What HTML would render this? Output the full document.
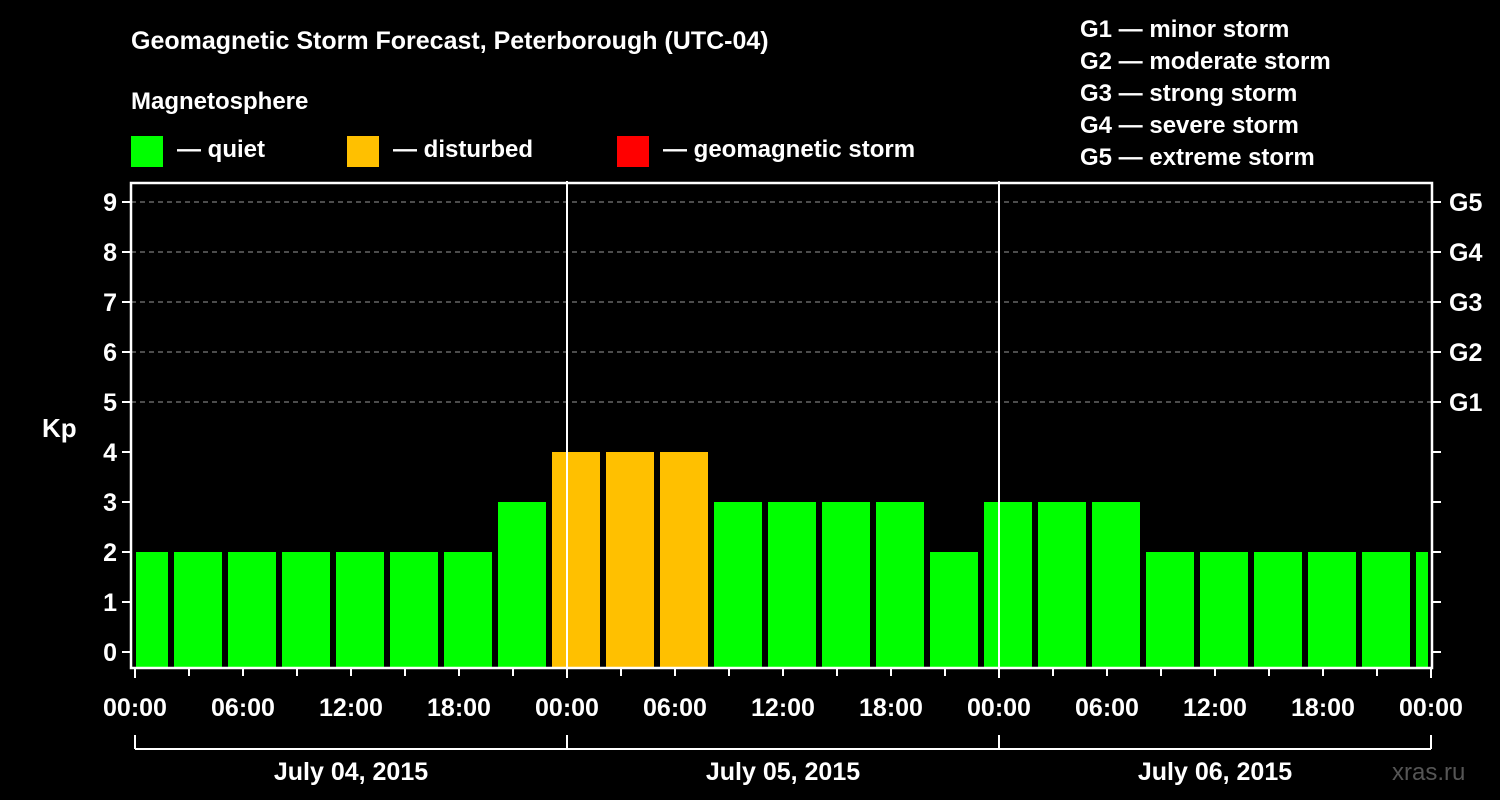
<!DOCTYPE html>
<html><head><meta charset="utf-8"><style>
html,body{margin:0;padding:0;background:#000;}
svg{display:block;font-family:"Liberation Sans",sans-serif;font-weight:bold;}
</style></head><body>
<svg id="c" width="1500" height="800">
<text x="131" y="49" fill="#fff" font-size="25">Geomagnetic Storm Forecast, Peterborough (UTC-04)</text>
<text x="131" y="109" fill="#fff" font-size="24">Magnetosphere</text>
<g><rect x="131" y="136" width="32" height="31" fill="#00ff00"/><text x="177" y="157" fill="#fff" font-size="24">— quiet</text></g>
<g><rect x="347" y="136" width="32" height="31" fill="#ffc000"/><text x="393" y="157" fill="#fff" font-size="24">— disturbed</text></g>
<g><rect x="617" y="136" width="32" height="31" fill="#ff0000"/><text x="663" y="157" fill="#fff" font-size="24">— geomagnetic storm</text></g>
<g fill="#fff" font-size="24">
<text x="1080" y="37">G1 — minor storm</text><text x="1080" y="69">G2 — moderate storm</text><text x="1080" y="101">G3 — strong storm</text><text x="1080" y="133">G4 — severe storm</text><text x="1080" y="165">G5 — extreme storm</text></g>
<text x="42" y="437" fill="#fff" font-size="26">Kp</text>
<text x="1392" y="780" fill="#555" font-size="24" font-weight="normal">xras.ru</text>
<g id="plot"></g>
</svg>
<script>
const kpValues=[2,2,2,2,2,2,2,3,4,4,4,3,3,3,3,2,3,3,3,2,2,2,2,2,2];
const kpTicks=[0,1,2,3,4,5,6,7,8,9];
const stormLabels=["G1","G2","G3","G4","G5"];
const timeLabels=["00:00","06:00","12:00","18:00"];
const dateLabels=["July 04, 2015","July 05, 2015","July 06, 2015"];
const NS="http://www.w3.org/2000/svg";
const g=document.getElementById('plot');
const X0=135,PH=18,L=131,R=1432,T=183,B=668;
const xs=h=>X0+h*PH, ys=v=>652-v*50;
function mk(t,a,p){const e=document.createElementNS(NS,t);for(const k in a)e.setAttribute(k,a[k]);(p||g).appendChild(e);return e;}
const clip=mk('clipPath',{id:'cp'});mk('rect',{x:136,y:T,width:1292,height:B-T},clip);
const bg=mk('g',{'clip-path':'url(#cp)'});
kpValues.forEach((v,i)=>{const c=0.5+3*i;
 const r=mk('rect',{x:xs(c)-24,y:ys(v),width:48,height:B-ys(v),fill:v>=5?'#ff0000':v>=4?'#ffc000':'#00ff00'},bg);
 
 });
kpTicks.forEach(v=>{const y=ys(v);
 if(v>=5){const l=mk('line',{x1:L,x2:R,y1:y,y2:y,stroke:'#999','stroke-dasharray':'5,4','stroke-width':1});}
 mk('line',{x1:L-9,x2:L,y1:y,y2:y,stroke:'#fff','stroke-width':2});
 mk('line',{x1:R,x2:R+9,y1:y,y2:y,stroke:'#fff','stroke-width':2});
 const t=mk('text',{x:L-14,y:y+9,fill:'#fff','font-size':25,'text-anchor':'end'});t.textContent=v;
 
 if(v>=5){const s=mk('text',{x:1449,y:y+9,fill:'#fff','font-size':25});s.textContent=stormLabels[v-5];
 }
});
[24,48].forEach(h=>mk('line',{x1:xs(h),x2:xs(h),y1:181,y2:B,stroke:'#fff','stroke-width':2}));
mk('rect',{x:L,y:T,width:R-L,height:B-T,fill:'none',stroke:'#fff','stroke-width':2.5});
for(let h=0;h<=72;h+=3){mk('line',{x1:xs(h),x2:xs(h),y1:B,y2:B+(h%24==0?10:8),stroke:'#fff','stroke-width':2});
 if(h%6==0){const t=mk('text',{x:xs(h),y:716,fill:'#fff','font-size':25,'text-anchor':'middle'});t.textContent=h==72?timeLabels[0]:timeLabels[(h%24)/6];
 }}
mk('line',{x1:xs(0),x2:xs(72),y1:749,y2:749,stroke:'#fff','stroke-width':2});
[0,24,48,72].forEach(h=>mk('line',{x1:xs(h),x2:xs(h),y1:735,y2:749,stroke:'#fff','stroke-width':2}));
dateLabels.forEach((d,i)=>{const t=mk('text',{x:xs(24*i+12),y:780,fill:'#fff','font-size':25,'text-anchor':'middle'});t.textContent=d;
 });
</script>
</body></html>
